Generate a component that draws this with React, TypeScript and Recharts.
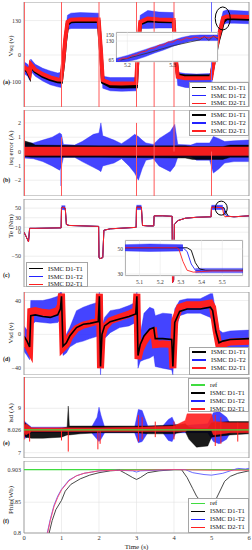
import React from "react";
import {
  Area,
  CartesianGrid,
  ComposedChart,
  Line,
  ReferenceArea,
  ReferenceDot,
  ReferenceLine,
  XAxis,
  YAxis,
} from "recharts";

const FONT = '"Liberation Serif", "DejaVu Serif", serif';
const RED = "#ff1f1f";
const SPIKE_RED = "#ff5a5a";
const BLUE = "#2323ff";
const BLACK = "#000000";
const GREEN = "#40dc40";
const FRAME = "#8f8f8f";
const GRID = "#e2e2e2";

const xTicks = [0, 1, 2, 3, 4, 5, 6];

// (a) Vsq
const vsqT = [0, 0.1, 0.15, 0.18, 0.3, 0.5, 0.7, 0.9, 0.99, 1.05, 1.1, 1.16, 1.25, 1.5, 1.99, 2.05, 2.1, 2.3, 2.6, 2.99, 3.04, 3.1, 3.3, 3.6, 3.99, 4.04, 4.1, 4.3, 4.6, 4.99, 5.1, 5.18, 5.25, 5.31, 5.4, 5.6, 6.0];
const vsqRed = [-45, -55, -70, -35, -55, -72, -84, -92, -93, -20, 60, 125, 133, 135, 134, 20, -95, -106, -107, -106, 20, 125, 138, 134, 132, 0, -82, -88, -88, -87, 10, 65, 105, 140, 145, 145, 143];
const vsqBlack = [-50, -62, -78, -40, -62, -80, -92, -100, -101, -30, 50, 117, 126, 128, 127, 10, -102, -118, -120, -119, 10, 118, 130, 127, 126, -10, -76, -80, -80, -79, 0, 55, 90, 125, 138, 138, 136];
const vsqBlueLo = [-70, -80, -95, -60, -80, -98, -112, -120, -122, -50, 25, 95, 100, 100, 100, 0, -125, -135, -137, -135, 0, 100, 100, 102, 102, -20, -115, -122, -125, -125, -15, 40, 80, 115, 120, 120, 118];
const vsqBlueHi = [-25, -35, -50, -15, -35, -50, -60, -68, -65, 5, 85, 150, 158, 160, 158, 45, -80, -85, -85, -85, 45, 150, 168, 162, 160, 25, -65, -70, -72, -70, 35, 90, 130, 165, 170, 168, 165];
const vsqRedSpikeT = [0.01, 1.0, 2.0, 3.0, 3.47, 4.0];
const vsqRedSpikeFrom = [200, 200, 200, 200, 200, 200];
const vsqRedSpikeTo = [-196, -196, -196, -196, -196, -196];
const vsqBlueSpikeT = [5.0];
const vsqBlueSpikeFrom = [200];
const vsqBlueSpikeTo = [-196];

// (a) inset
const inAT = [5.18, 5.19, 5.2, 5.21, 5.22, 5.23, 5.24, 5.25, 5.26, 5.27, 5.28, 5.29, 5.3, 5.31, 5.32, 5.33, 5.34, 5.35, 5.36, 5.37, 5.38, 5.39, 5.4];
const inARed = [66, 73, 72, 81, 84, 93, 96, 105, 107, 116, 117, 127, 126, 135, 133, 141, 138, 143, 139, 144, 140, 145, 141];
const inABlueT = [5.175, 5.2, 5.22, 5.24, 5.26, 5.28, 5.3, 5.32, 5.34, 5.36, 5.38, 5.4];
const inABlueLo = [60, 62, 68, 78, 90, 100, 112, 122, 130, 132, 132, 132];
const inABlueHi = [72, 82, 92, 102, 112, 122, 132, 142, 148, 150, 150, 150];
const inABlackT = [5.185, 5.25, 5.3, 5.36, 5.37, 5.38, 5.39, 5.4];
const inABlack = [66, 92, 114, 134, 145, 132, 147, 136];

// (b) isq error
const isqBlueT = [0, 0.25, 0.5, 0.75, 0.95, 1.0, 1.05, 1.35, 1.55, 1.85, 2.0, 2.05, 2.1, 2.4, 2.6, 2.8, 2.95, 3.05, 3.15, 3.25, 3.45, 3.6, 3.9, 4.02, 4.1, 4.45, 4.6, 4.95, 5.05, 5.2, 5.35, 5.6, 6.0];
const isqBlueLo = [-0.45, -0.5, -0.7, -1.0, -1.3, -1.0, -0.4, -0.4, -0.7, -1.1, -1.3, -1.4, -1.0, -0.8, -0.5, -1.0, -1.5, -2.0, -1.2, -0.6, -0.5, -1.0, -1.4, -1.0, -0.4, -0.35, -0.6, -0.6, -1.5, -1.2, -0.8, -0.7, -0.7];
const isqBlueHi = [0.6, 0.6, 0.8, 1.0, 1.3, 1.2, 0.5, 0.45, 0.7, 1.2, 1.3, 2.0, 1.1, 0.8, 0.55, 0.9, 1.2, 1.05, 0.8, 0.6, 0.5, 0.9, 1.4, 1.9, 0.5, 0.45, 0.6, 0.6, 1.05, 0.9, 0.7, 0.75, 0.8];
const isqBlackT = [0, 0.2, 0.3, 2.0, 4.3, 4.5, 5.3, 5.5, 6.0];
const isqBlackLo = [-0.35, -0.4, -0.4, -0.4, -0.45, -0.55, -0.55, -0.4, -0.4];
const isqBlackHi = [0.75, 0.6, 0.45, 0.4, 0.4, 0.35, 0.35, 0.45, 0.45];
const isqRedT = [0, 6];
const isqRedLo = [-0.28, -0.28];
const isqRedHi = [0.32, 0.32];
const isqRedSpikeT = [0.01, 1.0, 3.0, 3.47, 4.0, 5.0];
const isqRedSpikeFrom = [2.9, 1.0, 2.0, 2.9, 2.9, 0];
const isqRedSpikeTo = [-3.1, -3.1, -3.1, -3.1, 0, -3.1];
const isqBlueSpikeT = [0.99];
const isqBlueSpikeFrom = [0.5];
const isqBlueSpikeTo = [-2.4];

// (c) Te
const teT = [0, 0.05, 0.12, 0.15, 0.3, 0.99, 1.0, 1.02, 1.1, 1.13, 1.2, 1.6, 1.99, 2.0, 2.02, 2.1, 2.13, 2.3, 2.99, 3.0, 3.13, 3.16, 3.3, 3.46, 3.47, 3.7, 3.95, 3.96, 3.99, 4.01, 4.1, 4.3, 4.6, 4.99, 5.0, 5.29, 5.33, 5.36, 5.45, 5.6, 6.0];
const teRed = [0, -8, -20, 8, 8, 9, 50, 52, 50, 16, 14, 13, 12, -52, -55, -53, 4, 7, 10, 52, 52, 14, 13, 13, 34, 34, 33, -105, -100, 16, 24, 29, 31, 32, 52, 51, 35, 32, 33, 32, 34];
const teBlack = [0, -8, -20, 8, 8, 9, 50, 52, 50, 16, 14, 13, 12, -52, -55, -53, 4, 7, 10, 52, 52, 14, 13, 13, 34, 34, 33, -105, -100, 16, 24, 29, 31, 32, 52, 51, 51, 45, 33, 32, 34];
const teBlue = [0, -8, -20, 8, 8, 9, 50, 52, 50, 16, 14, 13, 12, -52, -55, -53, 4, 7, 10, 52, 52, 14, 13, 13, 34, 34, 33, -105, -100, 16, 24, 29, 31, 32, 52, 51, 49, 37, 33, 32, 34];
const teNoiseStart = [1.0, 3.0, 5.0];
const teNoiseEnd = [1.1, 3.13, 5.3];
const teNoiseLo = [47, 47, 47];
const teNoiseHi = [55, 56, 56];

// (c) inset
const inCRedT = [5.03, 5.28, 5.29, 5.31, 5.33, 5.36, 5.4, 5.45, 5.6];
const inCRed = [51, 51, 50, 40, 33, 31.5, 32, 32.5, 32.5];
const inCBlueT = [5.03, 5.31, 5.33, 5.35, 5.37, 5.4, 5.6];
const inCBlue = [51, 51, 48, 38, 33, 32.5, 32.5];
const inCBlackT = [5.03, 5.33, 5.35, 5.37, 5.39, 5.42, 5.6];
const inCBlack = [51, 51, 49, 39, 34, 33, 33];
const inCNoiseT = [5.03, 5.15, 5.31];
const inCNoiseLo = [48.5, 48, 48.5];
const inCNoiseHi = [53.5, 54, 53.5];
const inCTailT = [5.37, 5.6];
const inCTailLo = [31, 31];
const inCTailHi = [34.5, 34.5];

// (d) Vsd
const vsdT = [0, 0.08, 0.15, 0.18, 0.3, 0.5, 0.7, 0.9, 0.97, 1.0, 1.04, 1.13, 1.22, 1.4, 1.58, 1.76, 1.98, 2.01, 2.04, 2.08, 2.15, 2.3, 2.55, 2.8, 2.98, 3.01, 3.04, 3.1, 3.2, 3.35, 3.46, 3.5, 3.7, 3.94, 3.97, 4.02, 4.15, 4.35, 4.7, 4.97, 5.03, 5.12, 5.2, 5.3, 5.5, 6.0];
const vsdRed = [-5, -12, -18, 27, 28, 26, 25, 28, 34, 48, -16, -12, -3, 7, 11, 13, 16, 48, -40, -3, 8, 16, 20, 24, 28, 48, -29, -18, -9, 1, 3, -12, -11, -12, -40, 16, 32, 35, 35, 37, 32, 5, -14, -12, -9, -8];
const vsdBlack = [-2, -8, -15, 22, 23, 21, 20, 23, 30, 45, -14, -10, -2, 8, 12, 13, 15, 45, -38, 0, 10, 15, 18, 21, 24, 45, -25, -12, -2, 6, 8, -5, -5, -6, -38, 14, 27, 30, 30, 32, 28, 3, -10, -8, -6, -5];
const vsdBlueLo = [-20, -25, -30, 10, 15, 14, 13, 14, 18, 30, -25, -22, -15, -10, -8, -5, -2, 20, -48, -15, -5, 2, 8, 10, 14, 30, -40, -32, -30, -28, -25, -38, -40, -42, -48, 0, 22, 25, 25, 20, 15, -10, -25, -24, -22, -20];
const vsdBlueHi = [10, 5, 0, 40, 40, 40, 42, 45, 50, 50, -5, 0, 8, 28, 32, 35, 38, 50, -30, 10, 20, 28, 30, 34, 38, 50, -15, 0, 25, 32, 30, 22, 25, 24, -25, 30, 40, 42, 42, 48, 48, 25, 5, 2, 4, 5];
const vsdRedSpikeT = [0.005];
const vsdRedSpikeFrom = [50];
const vsdRedSpikeTo = [-15];

// (e) isd
const isdRef = 8.026;
const isdBlackT = [0, 0.05, 0.2, 0.5, 1.0, 1.15, 1.18, 1.21, 1.5, 2.0, 3.0, 3.3, 4.0, 4.3, 4.4, 4.6, 4.9, 5.0, 5.5, 6.0];
const isdBlackLo = [7.8, 7.7, 7.65, 7.65, 7.7, 7.8, 7.8, 7.8, 7.85, 7.9, 7.9, 7.85, 7.85, 7.95, 7.6, 7.25, 7.3, 7.7, 7.8, 7.85];
const isdBlackHi = [8.4, 8.3, 8.1, 8.05, 8.1, 8.15, 9.1, 8.2, 8.2, 8.2, 8.2, 8.2, 8.25, 8.3, 8.15, 8.1, 8.1, 8.35, 8.4, 8.4];
const isdRedT = [0, 0.02, 0.05, 0.2, 1.0, 2.0, 3.0, 4.0, 4.3, 4.35, 5.0, 5.05, 5.5, 6.0];
const isdRedLo = [7.9, 7.9, 7.8, 7.95, 7.95, 7.95, 7.95, 7.95, 7.95, 8.0, 8.0, 7.8, 7.9, 7.9];
const isdRedHi = [8.3, 8.2, 8.3, 8.12, 8.12, 8.12, 8.15, 8.2, 8.45, 8.75, 8.75, 8.4, 8.35, 8.35];
const isdRedSpikeT = [0.005, 0.15, 1.0, 1.18, 1.97, 2.03, 3.05, 3.15, 3.5, 4.0, 5.1, 5.25, 5.7];
const isdRedSpikeFrom = [10.41, 8.1, 8.1, 8.0, 8.0, 8.0, 8.7, 8.6, 8.4, 8.4, 8.7, 8.6, 8.35];
const isdRedSpikeTo = [7.6, 7.5, 7.55, 7.05, 7.15, 7.4, 7.5, 7.6, 7.7, 7.6, 7.3, 7.4, 7.5];
const isdBlueT = [0, 0.05, 0.2, 1.8, 1.95, 2.0, 2.05, 2.15, 2.95, 3.05, 3.15, 3.3, 3.7, 3.85, 3.95, 4.05, 4.9, 5.05, 5.2, 5.4, 5.5, 6.0];
const isdBlueLo = [7.7, 7.65, 7.9, 7.9, 7.6, 7.5, 7.6, 7.9, 7.9, 7.45, 7.5, 7.9, 7.9, 7.55, 7.5, 7.9, 7.9, 7.5, 7.4, 7.6, 7.9, 7.9];
const isdBlueHi = [8.45, 8.35, 8.15, 8.15, 8.6, 9.05, 8.7, 8.15, 8.15, 8.95, 8.9, 8.2, 8.2, 8.5, 8.6, 8.2, 8.3, 8.8, 8.85, 8.6, 8.3, 8.3];

// (f) Phir
const phiRef = 0.903;
const phiRedT = [0.63, 0.7, 0.8, 0.9, 1.0, 1.2, 1.4, 1.6, 1.8, 2.0, 2.5, 3.0, 4.0, 5.0, 6.0];
const phiRed = [0.8, 0.82, 0.843, 0.858, 0.87, 0.885, 0.893, 0.897, 0.899, 0.901, 0.902, 0.902, 0.903, 0.902, 0.902];
const phiBlueT = [0.62, 0.7, 0.8, 0.9, 1.0, 1.2, 1.4, 1.6, 1.8, 2.0, 2.5, 2.9, 3.0, 3.1, 4.0, 4.3, 4.5, 4.8, 5.0, 5.3, 5.5, 5.7, 5.9, 6.0];
const phiBlue = [0.8, 0.822, 0.845, 0.86, 0.871, 0.886, 0.893, 0.897, 0.899, 0.901, 0.902, 0.901, 0.899, 0.901, 0.903, 0.903, 0.898, 0.895, 0.894, 0.897, 0.901, 0.905, 0.904, 0.905];
const phiBlackT = [0.67, 0.75, 0.85, 1.0, 1.1, 1.25, 1.5, 1.75, 2.0, 2.3, 2.55, 2.7, 2.9, 3.0, 3.1, 3.3, 3.6, 4.0, 4.2, 4.35, 4.5, 4.6, 4.8, 5.0, 5.2, 5.35, 5.5, 5.7, 6.0];
const phiBlack = [0.8, 0.82, 0.838, 0.853, 0.868, 0.879, 0.888, 0.894, 0.898, 0.901, 0.902, 0.897, 0.89, 0.887, 0.89, 0.898, 0.901, 0.903, 0.903, 0.89, 0.872, 0.86, 0.845, 0.84, 0.865, 0.884, 0.892, 0.897, 0.901];

const rows = (t: number[], v: number[]) => t.map((x, i) => ({ t: x, v: v[i] }));
const band = (t: number[], lo: number[], hi: number[]) =>
  t.map((x, i) => ({ t: x, r: [lo[i], hi[i]] }));

const fmt = (v: number) => (v < 0 ? `\u2212${Math.abs(v)}` : String(v));

const tickStyle = { fontSize: 6, fill: "#333", fontFamily: FONT };

function lineEl(key: string, data: any[], color: string, width: number) {
  return (
    <Line
      key={key}
      data={data}
      dataKey="v"
      type="linear"
      stroke={color}
      strokeWidth={width}
      dot={false}
      activeDot={false}
      isAnimationActive={false}
    />
  );
}

function areaEl(key: string, data: any[], color: string, opacity = 0.9) {
  return (
    <Area
      key={key}
      data={data}
      dataKey="r"
      type="linear"
      stroke={color}
      strokeWidth={0.4}
      fill={color}
      fillOpacity={opacity}
      dot={false}
      activeDot={false}
      isAnimationActive={false}
    />
  );
}

// one-sample spikes drawn as vertical segments through the chart scales
function spikeEls(prefix: string, t: number[], from: number[], to: number[], color: string) {
  return t.map((x, i) => (
    <ReferenceLine
      key={`${prefix}${i}`}
      segment={[
        { x, y: from[i] },
        { x, y: to[i] },
      ]}
      stroke={color}
      strokeWidth={1}
      ifOverflow="hidden"
    />
  ));
}

function ellipse(rx: number, ry: number) {
  return (p: any) => (
    <ellipse cx={p.cx} cy={p.cy} rx={rx} ry={ry} fill="none" stroke="#000" strokeWidth={1} />
  );
}

function Panel({
  top,
  height,
  domain,
  ticks,
  bottom,
  children,
}: {
  top: number;
  height: number;
  domain: [number, number];
  ticks: number[];
  bottom?: boolean;
  children: React.ReactNode;
}) {
  return (
    <div style={{ position: "absolute", left: 0, top }}>
      <ComposedChart width={252} height={height} margin={{ top: 0, right: 3, bottom: 0, left: 0 }}>
        <CartesianGrid stroke={GRID} strokeWidth={0.6} />
        {bottom ? (
          <XAxis
            type="number"
            dataKey="t"
            domain={[0, 6]}
            ticks={xTicks}
            allowDataOverflow
            height={17}
            tickLine={false}
            axisLine={false}
            tickSize={2}
            tickMargin={0}
            interval={0}
            tick={{ ...tickStyle, fontSize: 6.5 }}
            label={{
              value: "Time (s)",
              position: "insideBottom",
              offset: 1,
              style: { fontSize: 7, fontFamily: FONT, fill: "#222" },
            }}
          />
        ) : (
          <XAxis
            type="number"
            dataKey="t"
            domain={[0, 6]}
            ticks={xTicks}
            allowDataOverflow
            height={0}
            tick={false}
            tickLine={false}
            axisLine={false}
          />
        )}
        <YAxis
          type="number"
          domain={domain}
          ticks={ticks}
          allowDataOverflow
          width={24}
          interval={0}
          tickLine={false}
          axisLine={false}
          tickSize={2}
          tickMargin={1}
          tick={tickStyle}
          tickFormatter={fmt}
        />
        {children}
        <ReferenceArea
          x1={0}
          x2={6}
          y1={domain[0]}
          y2={domain[1]}
          fill="none"
          stroke={FRAME}
          strokeWidth={0.8}
          ifOverflow="visible"
        />
      </ComposedChart>
    </div>
  );
}

type Item = { label: string; color: string };
const legend3: Item[] = [
  { label: "ISMC D1-T1", color: BLACK },
  { label: "ISMC D1-T2", color: BLUE },
  { label: "ISMC D2-T1", color: RED },
];
const legend4: Item[] = [{ label: "ref", color: GREEN }, ...legend3];

function LegendBox({
  left,
  top,
  width,
  height,
  items,
  rowY,
  lw,
}: {
  left: number;
  top: number;
  width: number;
  height: number;
  items: Item[];
  rowY: number[];
  lw: number;
}) {
  return (
    <div
      style={{
        position: "absolute",
        left,
        top,
        width,
        height,
        boxSizing: "border-box",
        border: `1px solid #a5a5a5`,
        background: "#fff",
      }}
    >
      {items.map((it, i) => (
        <div
          key={it.label}
          style={{
            position: "absolute",
            left: 2,
            top: rowY[i] - top - 5,
            height: 8,
            display: "flex",
            alignItems: "center",
          }}
        >
          <div style={{ width: 14, height: lw, background: it.color }} />
          <span
            style={{
              marginLeft: 5,
              fontSize: 6.5,
              lineHeight: "8px",
              whiteSpace: "nowrap",
              color: "#111",
            }}
          >
            {it.label}
          </span>
        </div>
      ))}
    </div>
  );
}

function Title({ text, y }: { text: string; y: number }) {
  return (
    <div
      style={{
        position: "absolute",
        left: 11,
        top: y,
        transform: "translate(-50%, -50%) rotate(-90deg)",
        fontSize: 7,
        whiteSpace: "nowrap",
        color: "#222",
        lineHeight: "8px",
      }}
    >
      {text}
    </div>
  );
}

function Tag({ text, y }: { text: string; y: number }) {
  return (
    <div
      style={{
        position: "absolute",
        left: 3,
        top: y - 4,
        fontSize: 6,
        fontWeight: "bold",
        lineHeight: "8px",
        color: "#222",
      }}
    >
      {text}
    </div>
  );
}

export default function App() {
  return (
    <div
      style={{
        position: "absolute",
        left: 0,
        top: 0,
        width: 252,
        height: 550,
        background: "#fff",
        fontFamily: FONT,
        overflow: "hidden",
      }}
    >
      {/* (a) */}
      <Panel top={2} height={105} domain={[-196, 200]} ticks={[-100, 0, 130]}>
        {areaEl("vsqBlue", band(vsqT, vsqBlueLo, vsqBlueHi), BLUE, 0.85)}
        {lineEl("vsqBlack", rows(vsqT, vsqBlack), BLACK, 3.5)}
        {lineEl("vsqRed", rows(vsqT, vsqRed), RED, 4)}
        {spikeEls("vsqRS", vsqRedSpikeT, vsqRedSpikeFrom, vsqRedSpikeTo, SPIKE_RED)}
        {spikeEls("vsqBS", vsqBlueSpikeT, vsqBlueSpikeFrom, vsqBlueSpikeTo, "#6a6aff")}
        <ReferenceDot x={5.3} y={138} r={8} shape={ellipse(7.5, 11.5)} ifOverflow="visible" />
      </Panel>
      <div
        style={{
          position: "absolute",
          left: 116,
          top: 32,
          width: 102,
          height: 30,
          boxSizing: "border-box",
          border: "1px solid #a5a5a5",
          background: "#fff",
        }}
      />
      <div style={{ position: "absolute", left: 98, top: 30 }}>
        <ComposedChart width={122} height={42} margin={{ top: 2, right: 2, bottom: 0, left: 0 }}>
          <CartesianGrid stroke={GRID} strokeWidth={0.5} />
          <XAxis
            type="number"
            dataKey="t"
            domain={[5.175, 5.4]}
            ticks={[5.2, 5.3]}
            allowDataOverflow
            height={10}
            tickLine={false}
            axisLine={false}
            tickSize={1}
            tickMargin={0}
            tick={{ ...tickStyle, fontSize: 5.5 }}
          />
          <YAxis
            type="number"
            domain={[60, 160]}
            ticks={[65, 130, 150]}
            allowDataOverflow
            width={18}
            interval={0}
            tickLine={false}
            axisLine={false}
            tickSize={1}
            tickMargin={1}
            tick={{ ...tickStyle, fontSize: 5.5 }}
          />
          {areaEl("inABlue", band(inABlueT, inABlueLo, inABlueHi), BLUE, 0.85)}
          {lineEl("inABlack", rows(inABlackT, inABlack), "#333", 0.8)}
          {lineEl("inARed", rows(inAT, inARed), RED, 0.9)}
        </ComposedChart>
      </div>
      <LegendBox left={189} top={82} width={60} height={25} items={legend3} rowY={[87.5, 95.5, 103]} lw={1} />

      {/* (b) */}
      <Panel top={110} height={86} domain={[-3.1, 2.9]} ticks={[-2, -1, 0, 1, 2]}>
        {areaEl("isqBlue", band(isqBlueT, isqBlueLo, isqBlueHi), BLUE, 0.85)}
        {areaEl("isqBlack", band(isqBlackT, isqBlackLo, isqBlackHi), BLACK, 0.9)}
        {areaEl("isqRed", band(isqRedT, isqRedLo, isqRedHi), RED, 0.95)}
        {spikeEls("isqBS", isqBlueSpikeT, isqBlueSpikeFrom, isqBlueSpikeTo, BLUE)}
        {spikeEls("isqRS", isqRedSpikeT, isqRedSpikeFrom, isqRedSpikeTo, SPIKE_RED)}
      </Panel>
      <LegendBox left={189} top={110} width={60} height={26} items={legend3} rowY={[115, 123, 131]} lw={2} />

      {/* (c) */}
      <Panel top={199} height={88} domain={[-114, 69]} ticks={[-50, 0, 10, 30, 50]}>
        {teNoiseStart.map((s, i) =>
          areaEl(
            `teNoise${i}`,
            band([s, teNoiseEnd[i]], [teNoiseLo[i], teNoiseLo[i]], [teNoiseHi[i], teNoiseHi[i]]),
            BLUE,
            0.85,
          ),
        )}
        {lineEl("teBlack", rows(teT, teBlack), BLACK, 1)}
        {lineEl("teBlue", rows(teT, teBlue), BLUE, 1)}
        {lineEl("teRed", rows(teT, teRed), RED, 1)}
        <ReferenceDot x={5.26} y={50} r={6} shape={ellipse(6, 7)} ifOverflow="visible" />
      </Panel>
      <div
        style={{
          position: "absolute",
          left: 125,
          top: 240,
          width: 118,
          height: 36,
          boxSizing: "border-box",
          border: "1px solid #a5a5a5",
          background: "#fff",
        }}
      />
      <div style={{ position: "absolute", left: 110, top: 237 }}>
        <ComposedChart width={135} height={52} margin={{ top: 3, right: 2, bottom: 0, left: 0 }}>
          <CartesianGrid stroke={GRID} strokeWidth={0.5} />
          <XAxis
            type="number"
            dataKey="t"
            domain={[5.03, 5.6]}
            ticks={[5.1, 5.2, 5.3, 5.4, 5.5]}
            allowDataOverflow
            height={13}
            interval={0}
            tickLine={false}
            axisLine={false}
            tickSize={2}
            tickMargin={2}
            tick={{ ...tickStyle, fontSize: 5.5 }}
          />
          <YAxis
            type="number"
            domain={[28.4, 57.2]}
            ticks={[30, 50]}
            allowDataOverflow
            width={15}
            interval={0}
            tickLine={false}
            axisLine={false}
            tickSize={1}
            tickMargin={1}
            tick={{ ...tickStyle, fontSize: 5.5 }}
          />
          {areaEl("inCNoise", band(inCNoiseT, inCNoiseLo, inCNoiseHi), BLUE, 0.85)}
          {areaEl("inCTail", band(inCTailT, inCTailLo, inCTailHi), BLUE, 0.6)}
          {lineEl("inCBlack", rows(inCBlackT, inCBlack), BLACK, 0.9)}
          {lineEl("inCBlue", rows(inCBlueT, inCBlue), BLUE, 0.9)}
          {lineEl("inCRed", rows(inCRedT, inCRed), RED, 0.9)}
        </ComposedChart>
      </div>
      <LegendBox left={26} top={262} width={62} height={25} items={legend3} rowY={[268.5, 276.5, 284]} lw={1} />

      {/* (d) */}
      <Panel top={292} height={83} domain={[-48, 50]} ticks={[-40, 0, 40]}>
        {areaEl("vsdBlue", band(vsdT, vsdBlueLo, vsdBlueHi), BLUE, 0.85)}
        {lineEl("vsdRed", rows(vsdT, vsdRed), RED, 7)}
        {lineEl("vsdBlack", rows(vsdT, vsdBlack), BLACK, 1.6)}
        {spikeEls("vsdRS", vsdRedSpikeT, vsdRedSpikeFrom, vsdRedSpikeTo, SPIKE_RED)}
      </Panel>
      <LegendBox left={189} top={347} width={60} height={28} items={legend3} rowY={[352, 360, 368]} lw={1.5} />

      {/* (e) */}
      <Panel top={377} height={81} domain={[6.76, 10.41]} ticks={[7, isdRef, 9]}>
        {areaEl("isdBlue", band(isdBlueT, isdBlueLo, isdBlueHi), BLUE, 0.85)}
        {areaEl("isdBlack", band(isdBlackT, isdBlackLo, isdBlackHi), BLACK, 0.9)}
        {areaEl("isdRed", band(isdRedT, isdRedLo, isdRedHi), RED, 0.9)}
        {spikeEls("isdRS", isdRedSpikeT, isdRedSpikeFrom, isdRedSpikeTo, RED)}
        {lineEl("isdRef", rows([0, 6], [isdRef, isdRef]), GREEN, 1.2)}
      </Panel>
      <LegendBox left={188} top={378} width={61} height={34} items={legend4} rowY={[385, 393, 401, 409]} lw={2} />

      {/* (f) */}
      <Panel top={461} height={89} domain={[0.8, 0.917]} ticks={[0.8, 0.85, phiRef]} bottom>
        {lineEl("phiRef", rows([0, 6], [phiRef, phiRef]), GREEN, 1.2)}
        {lineEl("phiBlack", rows(phiBlackT, phiBlack), "#333", 0.9)}
        {lineEl("phiBlue", rows(phiBlueT, phiBlue), "#5a5aff", 0.9)}
        {lineEl("phiRed", rows(phiRedT, phiRed), "#ff4a6a", 0.9)}
      </Panel>
      <LegendBox left={188} top={498} width={61} height={35} items={legend4} rowY={[503, 511, 519, 527]} lw={1} />

      <Title text="Vsq (v)" y={46} />
      <Title text="isq error (A)" y={148} />
      <Title text="Te (Nm)" y={226} />
      <Title text="Vsd (v)" y={333} />
      <Title text="isd (A)" y={413} />
      <Title text="Phir (Wb)" y={500} />

      <Tag text="(a)" y={82} />
      <Tag text="(b)" y={180} />
      <Tag text="(c)" y={275} />
      <Tag text="(d)" y={359} />
      <Tag text="(e)" y={443} />
      <Tag text="(f)" y={521} />
    </div>
  );
}
